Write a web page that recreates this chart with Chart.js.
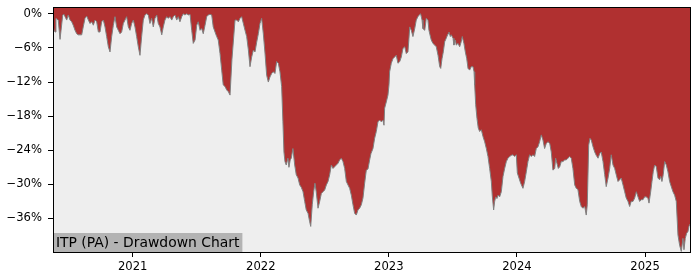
<!DOCTYPE html>
<html>
<head>
<meta charset="utf-8">
<title>ITP (PA) - Drawdown Chart</title>
<script src="https://cdn.jsdelivr.net/npm/chart.js@4.4.1/dist/chart.umd.min.js"></script>
<style>
  html, body { margin: 0; padding: 0; background: #ffffff; }
  #wrap { width: 700px; height: 280px; }
</style>
</head>
<body>
<div id="wrap"><canvas id="chart-drawdown" width="700" height="280"></canvas></div>
<script>
// ─── Data ─────────────────────────────────────────────────────────────────────

const CHART_TITLE = "ITP (PA) - Drawdown Chart";

// decimal years
const years = [
  2020.378, 2020.386, 2020.394, 2020.401, 2020.419, 2020.433, 2020.440, 2020.454, 2020.464, 2020.472,
  2020.485, 2020.497, 2020.511, 2020.524, 2020.536, 2020.550, 2020.563, 2020.575, 2020.602, 2020.614,
  2020.628, 2020.641, 2020.654, 2020.667, 2020.680, 2020.693, 2020.706, 2020.719, 2020.732, 2020.745,
  2020.758, 2020.771, 2020.784, 2020.797, 2020.810, 2020.823, 2020.836, 2020.849, 2020.862, 2020.875,
  2020.888, 2020.901, 2020.914, 2020.927, 2020.940, 2020.953, 2020.966, 2020.979, 2020.992, 2021.005,
  2021.018, 2021.031, 2021.044, 2021.057, 2021.070, 2021.083, 2021.096, 2021.109, 2021.122, 2021.135,
  2021.148, 2021.161, 2021.174, 2021.188, 2021.200, 2021.213, 2021.227, 2021.239, 2021.252, 2021.266,
  2021.278, 2021.291, 2021.305, 2021.317, 2021.330, 2021.344, 2021.356, 2021.369, 2021.383, 2021.395,
  2021.408, 2021.422, 2021.434, 2021.448, 2021.461, 2021.473, 2021.487, 2021.500, 2021.512, 2021.526,
  2021.539, 2021.551, 2021.565, 2021.578, 2021.590, 2021.604, 2021.617, 2021.629, 2021.643, 2021.656,
  2021.668, 2021.682, 2021.695, 2021.707, 2021.721, 2021.734, 2021.747, 2021.760, 2021.775, 2021.799,
  2021.812, 2021.825, 2021.838, 2021.851, 2021.864, 2021.877, 2021.890, 2021.903, 2021.916, 2021.929,
  2021.942, 2021.955, 2021.968, 2021.981, 2021.994, 2022.007, 2022.020, 2022.033, 2022.046, 2022.059,
  2022.072, 2022.085, 2022.098, 2022.111, 2022.124, 2022.137, 2022.150, 2022.163, 2022.173, 2022.181,
  2022.189, 2022.199, 2022.212, 2022.220, 2022.230, 2022.238, 2022.251, 2022.265, 2022.277, 2022.291,
  2022.304, 2022.316, 2022.330, 2022.343, 2022.355, 2022.369, 2022.382, 2022.390, 2022.402, 2022.413,
  2022.423, 2022.433, 2022.447, 2022.460, 2022.473, 2022.486, 2022.499, 2022.512, 2022.525, 2022.538,
  2022.551, 2022.564, 2022.577, 2022.590, 2022.603, 2022.616, 2022.629, 2022.642, 2022.655, 2022.668,
  2022.681, 2022.694, 2022.707, 2022.720, 2022.733, 2022.746, 2022.759, 2022.772, 2022.785, 2022.798,
  2022.811, 2022.824, 2022.837, 2022.850, 2022.860, 2022.876, 2022.889, 2022.902, 2022.915, 2022.928,
  2022.941, 2022.954, 2022.962, 2022.967, 2022.980, 2022.993, 2023.001, 2023.006, 2023.019, 2023.032,
  2023.045, 2023.058, 2023.071, 2023.085, 2023.097, 2023.110, 2023.124, 2023.136, 2023.149, 2023.157,
  2023.163, 2023.175, 2023.188, 2023.202, 2023.214, 2023.227, 2023.241, 2023.248, 2023.259, 2023.266,
  2023.280, 2023.292, 2023.305, 2023.313, 2023.321, 2023.331, 2023.344, 2023.358, 2023.370, 2023.384,
  2023.397, 2023.405, 2023.415, 2023.425, 2023.436, 2023.448, 2023.462, 2023.469, 2023.480, 2023.487,
  2023.501, 2023.508, 2023.519, 2023.526, 2023.540, 2023.553, 2023.565, 2023.573, 2023.586, 2023.597,
  2023.608, 2023.618, 2023.631, 2023.643, 2023.657, 2023.665, 2023.670, 2023.678, 2023.688, 2023.698,
  2023.709, 2023.722, 2023.735, 2023.748, 2023.761, 2023.774, 2023.787, 2023.800, 2023.807, 2023.818,
  2023.826, 2023.834, 2023.844, 2023.852, 2023.865, 2023.878, 2023.891, 2023.904, 2023.917, 2023.930,
  2023.943, 2023.956, 2023.969, 2023.982, 2023.995, 2024.003, 2024.016, 2024.029, 2024.047, 2024.060,
  2024.073, 2024.086, 2024.099, 2024.112, 2024.125, 2024.138, 2024.151, 2024.164, 2024.177, 2024.190,
  2024.203, 2024.216, 2024.229, 2024.242, 2024.256, 2024.268, 2024.281, 2024.295, 2024.302, 2024.312,
  2024.323, 2024.334, 2024.346, 2024.359, 2024.373, 2024.385, 2024.398, 2024.412, 2024.424, 2024.437,
  2024.451, 2024.463, 2024.476, 2024.490, 2024.502, 2024.515, 2024.529, 2024.541, 2024.549, 2024.560,
  2024.570, 2024.580, 2024.594, 2024.607, 2024.619, 2024.633, 2024.646, 2024.658, 2024.672, 2024.685,
  2024.697, 2024.711, 2024.724, 2024.736, 2024.750, 2024.763, 2024.775, 2024.789, 2024.802, 2024.814,
  2024.828, 2024.841, 2024.853, 2024.867, 2024.880, 2024.892, 2024.906, 2024.919, 2024.932, 2024.945,
  2024.958, 2024.970, 2024.984, 2024.997, 2025.010, 2025.023, 2025.031, 2025.044, 2025.054, 2025.064,
  2025.075, 2025.088, 2025.101, 2025.114, 2025.122, 2025.132, 2025.142, 2025.153, 2025.166, 2025.179,
  2025.192, 2025.205, 2025.218, 2025.231, 2025.244, 2025.257, 2025.270, 2025.283, 2025.296, 2025.304,
  2025.314, 2025.325, 2025.335, 2025.343, 2025.351,
];

// drawdown from running peak, in percent
const drawdown = [
  -2.0, -2.9, -3.2, -0.8, -1.1, -4.5, -4.5, -0.2, -0.1, -0.5,
  -1.1, -0.2, -1.1, -1.4, -2.0, -2.9, -3.5, -3.7, -3.7, -2.3,
  -0.8, -0.4, -1.1, -1.7, -1.4, -2.0, -1.1, -1.4, -3.2, -3.2,
  -1.4, -1.1, -2.3, -4.0, -5.8, -6.7, -4.0, -2.0, -0.5, -2.3,
  -2.9, -3.5, -3.2, -1.7, -1.1, -0.5, -2.3, -2.9, -1.7, -1.1,
  -2.3, -4.0, -5.8, -7.3, -4.0, -1.1, -0.2, 0.0, -0.2, -1.7,
  -0.8, -2.3, -0.8, -0.2, -1.7, -2.3, -3.7, -2.3, -1.1, -0.5,
  -0.8, -0.5, -1.1, -0.5, -0.2, -1.1, -0.5, -1.4, -0.5, 0.0,
  -0.2, 0.0, -0.2, -0.1, -2.9, -5.2, -4.6, -2.0, -1.4, -2.9,
  -2.6, -3.5, -2.0, -0.5, -0.2, -0.1, -0.2, -2.3, -3.2, -4.0,
  -4.6, -7.0, -9.9, -12.5, -12.8, -13.4, -13.7, -14.3, -8.0, -1.1,
  -1.1, -1.4, -0.8, -0.5, -1.7, -2.9, -4.0, -6.3, -9.3, -7.6,
  -6.4, -6.7, -5.0, -3.5, -1.7, -0.8, -3.5, -6.9, -10.8, -12.0,
  -11.1, -10.5, -10.2, -10.5, -8.4, -8.7, -10.2, -12.8, -19.0, -24.3,
  -26.0, -26.6, -25.4, -27.0, -25.7, -25.4, -23.7, -26.6, -28.3, -28.9,
  -30.1, -30.5, -31.3, -33.0, -34.5, -35.1, -36.6, -37.4, -33.6, -31.3,
  -29.8, -31.3, -34.2, -33.0, -31.6, -31.3, -31.0, -30.1, -29.5, -28.3,
  -26.6, -27.2, -26.9, -26.6, -26.3, -25.7, -25.4, -26.0, -27.2, -29.5,
  -30.1, -30.7, -31.9, -33.6, -35.1, -35.4, -34.5, -34.2, -33.6, -32.4,
  -29.8, -27.5, -27.3, -25.7, -24.6, -23.7, -21.9, -20.7, -19.0, -18.7,
  -19.0, -18.7, -19.6, -16.6, -15.5, -14.3, -12.5, -10.2, -8.7, -7.9,
  -7.6, -7.3, -8.7, -8.4, -7.6, -6.1, -5.8, -7.0, -6.7, -4.3,
  -2.3, -2.9, -4.0, -2.6, -1.1, -0.5, -0.1, 0.0, -1.1, -2.6,
  -2.9, -0.8, -1.1, -2.9, -3.7, -4.6, -5.2, -5.5, -5.8, -7.3,
  -9.3, -9.6, -7.9, -6.7, -4.9, -4.3, -3.5, -3.2, -4.0, -3.7,
  -4.3, -5.5, -4.6, -5.5, -5.2, -5.8, -4.9, -4.0, -5.2, -6.7,
  -7.9, -9.6, -9.9, -9.3, -9.3, -10.2, -12.5, -16.0, -18.4, -20.1,
  -20.7, -20.4, -21.6, -22.5, -23.7, -25.1, -27.2, -29.5, -31.9, -34.5,
  -33.0, -32.2, -32.5, -31.9, -32.2, -31.3, -28.6, -27.2, -26.0, -25.4,
  -25.1, -24.9, -24.8, -25.1, -24.8, -28.0, -28.9, -29.8, -30.7, -29.5,
  -27.8, -26.0, -24.8, -25.1, -24.8, -25.1, -23.7, -23.4, -22.5, -21.3,
  -22.2, -23.7, -22.8, -22.5, -22.8, -24.3, -27.5, -27.2, -25.4, -26.3,
  -27.2, -26.9, -26.0, -26.0, -25.7, -25.7, -25.4, -25.1, -25.4, -27.2,
  -30.1, -30.7, -30.9, -33.0, -33.9, -34.2, -33.9, -35.4, -33.6, -23.1,
  -21.9, -22.2, -23.4, -24.3, -24.9, -25.4, -24.6, -24.3, -26.0, -28.3,
  -30.4, -28.9, -27.2, -24.8, -26.6, -27.2, -28.3, -29.5, -29.2, -28.9,
  -30.1, -31.3, -32.4, -33.0, -33.9, -33.0, -33.0, -32.4, -31.3, -32.2,
  -33.0, -32.7, -32.7, -32.2, -32.2, -32.5, -33.3, -31.3, -29.5, -27.8,
  -26.6, -26.9, -28.9, -29.2, -28.6, -29.5, -28.3, -26.0, -26.6, -27.8,
  -29.5, -30.4, -31.3, -31.9, -33.0, -38.9, -40.7, -41.8, -39.5, -41.5,
  -39.5, -38.6, -38.3, -37.4, -37.0,
];

const yearTicks = [2021, 2022, 2023, 2024, 2025];
const pctTicks  = [0, -6, -12, -18, -24, -30, -36];

// ─── Style ────────────────────────────────────────────────────────────────────

const COLORS = {
  fill: "#b03030",
  edge: "#808080",
  plotBg: "#eeeeee",
  spine: "#000000",
  text: "#000000",
  labelBox: "#b3b3b3",
};

Chart.defaults.font.family = "'DejaVu Sans', sans-serif";
Chart.defaults.color = COLORS.text;

// ─── Plugins ──────────────────────────────────────────────────────────────────

const plotBackground = {
  id: "plotBackground",
  beforeDatasetsDraw(chart) {
    const { ctx, chartArea: a } = chart;
    ctx.save();
    ctx.fillStyle = COLORS.plotBg;
    ctx.fillRect(a.left, a.top, a.right - a.left, a.bottom - a.top);
    ctx.restore();
  },
};

const frameAndLabel = {
  id: "frameAndLabel",
  afterDraw(chart) {
    const { ctx, chartArea: a } = chart;
    ctx.save();

    // title box, bottom-left inside the plot
    ctx.font = "13.9px 'DejaVu Sans', sans-serif";
    const w = ctx.measureText(CHART_TITLE).width;
    ctx.fillStyle = COLORS.labelBox;
    ctx.fillRect(a.left, a.bottom - 19, w + 6, 19);
    ctx.fillStyle = COLORS.text;
    ctx.textBaseline = "alphabetic";
    ctx.fillText(CHART_TITLE, a.left + 3, a.bottom - 5);

    // spines
    ctx.strokeStyle = COLORS.spine;
    ctx.lineWidth = 1;
    ctx.strokeRect(a.left + 0.5, a.top + 0.5, a.right - a.left, a.bottom - a.top);
    ctx.restore();
  },
};

// ─── Chart ────────────────────────────────────────────────────────────────────

function pctLabel(v) {
  return (v < 0 ? "\u2212" : "") + Math.abs(v) + "%";
}

function buildDrawdownChart(id) {
  const ctx = document.getElementById(id).getContext("2d");
  return new Chart(ctx, {
    type: "line",
    data: {
      datasets: [{
        data: years.map((t, i) => ({ x: t, y: drawdown[i] })),
        fill: "end",
        backgroundColor: COLORS.fill,
        borderColor: COLORS.edge,
        borderWidth: 1,
        pointRadius: 0,
        tension: 0,
      }],
    },
    options: {
      responsive: false,
      animation: false,
      events: [],
      layout: { padding: { top: 7, right: 10, left: 0, bottom: 0 } },
      plugins: {
        legend: { display: false },
        tooltip: { enabled: false },
      },
      scales: {
        x: {
          type: "linear",
          min: years[0],
          max: years[years.length - 1],
          afterBuildTicks: (s) => { s.ticks = yearTicks.map((v) => ({ value: v })); },
          afterFit: (s) => { s.height = 28; s.paddingLeft = 0; s.paddingRight = 0; },
          ticks: { callback: (v) => String(v), font: { size: 11.6 }, padding: 3, maxRotation: 0 },
          grid: { drawOnChartArea: false, drawTicks: true, tickLength: 5, color: COLORS.spine },
          border: { display: false },
        },
        y: {
          min: -41.9,
          max: 1.2,
          afterBuildTicks: (s) => { s.ticks = pctTicks.map((v) => ({ value: v })); },
          afterFit: (s) => { s.width = 53; s.paddingTop = 0; s.paddingBottom = 0; },
          ticks: { callback: pctLabel, font: { size: 11.6 }, padding: 6 },
          grid: { drawOnChartArea: false, drawTicks: true, tickLength: 5, color: COLORS.spine },
          border: { display: false },
        },
      },
    },
    plugins: [plotBackground, frameAndLabel],
  });
}

// ─── Init ─────────────────────────────────────────────────────────────────────

buildDrawdownChart("chart-drawdown");
</script>
</body>
</html>
